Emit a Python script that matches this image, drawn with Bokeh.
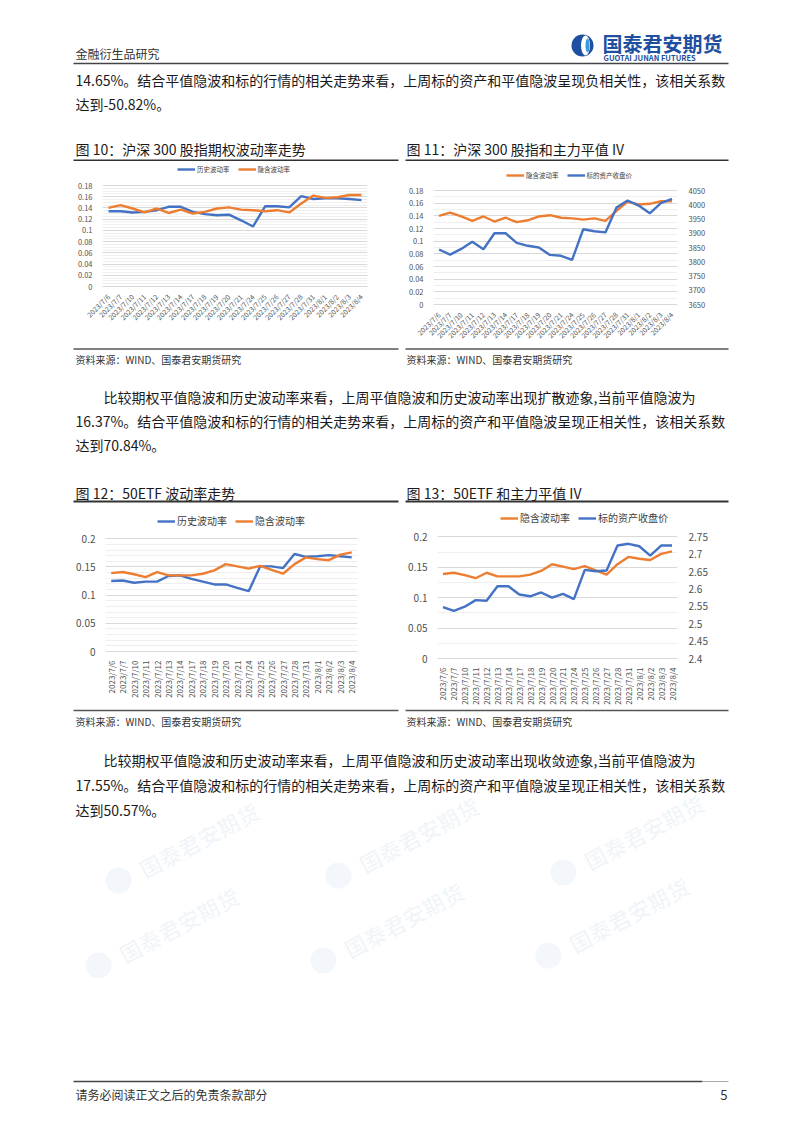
import math
from bokeh.plotting import figure
from bokeh.models import (Range1d, FactorRange, LinearAxis, FixedTicker,
                          CustomJSTickFormatter, Legend, LegendItem, Spacer)
from bokeh.layouts import column, row
from bokeh.embed import file_html
from bokeh.resources import INLINE
from bokeh.core.properties import value

# ---------------- data ----------------
dates = ["2023/7/6", "2023/7/7", "2023/7/10", "2023/7/11", "2023/7/12", "2023/7/13",
         "2023/7/14", "2023/7/17", "2023/7/18", "2023/7/19", "2023/7/20", "2023/7/21",
         "2023/7/24", "2023/7/25", "2023/7/26", "2023/7/27", "2023/7/28", "2023/7/31",
         "2023/8/1", "2023/8/2", "2023/8/3", "2023/8/4"]

if_hv = [0.134, 0.134, 0.132, 0.133, 0.136, 0.142, 0.142, 0.133, 0.129, 0.127, 0.128,
         0.118, 0.107, 0.143, 0.143, 0.141, 0.161, 0.156, 0.157, 0.157, 0.156, 0.154]
if_iv = [0.140, 0.145, 0.139, 0.132, 0.139, 0.131, 0.137, 0.130, 0.133, 0.139, 0.141,
         0.137, 0.136, 0.134, 0.136, 0.132, 0.148, 0.162, 0.158, 0.159, 0.163, 0.163]
hs300_close = [3843, 3825, 3845, 3870, 3844, 3900, 3900, 3866, 3856, 3850, 3824, 3821,
               3807, 3914, 3907, 3903, 3990, 4015, 3997, 3970, 4006, 4021]

etf_hv = [0.125, 0.126, 0.122, 0.124, 0.124, 0.134, 0.135, 0.129, 0.124, 0.119, 0.119,
          0.113, 0.107, 0.151, 0.151, 0.148, 0.173, 0.168, 0.169, 0.171, 0.169, 0.167]
etf_iv = [0.139, 0.141, 0.137, 0.132, 0.141, 0.135, 0.135, 0.135, 0.138, 0.144, 0.155,
          0.151, 0.147, 0.152, 0.145, 0.138, 0.155, 0.167, 0.164, 0.162, 0.172, 0.176]
etf_close = [2.548, 2.537, 2.549, 2.568, 2.566, 2.608, 2.608, 2.584, 2.579, 2.590, 2.575,
             2.586, 2.571, 2.655, 2.651, 2.653, 2.725, 2.730, 2.723, 2.696, 2.725, 2.725]

ticks_c1 = [0, 0.02, 0.04, 0.06, 0.08, 0.1, 0.12, 0.14, 0.16, 0.18]
ticks_c2_right = [3650, 3700, 3750, 3800, 3850, 3900, 3950, 4000, 4050]
ticks_c3 = [0, 0.05, 0.1, 0.15, 0.2]
ticks_c4_right = [2.4, 2.45, 2.5, 2.55, 2.6, 2.65, 2.7, 2.75]

lbl_hv = "历史波动率"
lbl_iv = "隐含波动率"
lbl_px = "标的资产收盘价"

FONT = "Noto Sans CJK SC"
BLUE = "#4472C4"
ORANGE = "#ED7D31"
TXT = "#1a1a1a"
FMT = CustomJSTickFormatter(code="return String(parseFloat(tick.toFixed(4)));")


def minor_of(ticks, n):
    out = []
    for a, b in zip(ticks[:-1], ticks[1:]):
        for k in range(1, n):
            out.append(a + (b - a) * k / n)
    return out


def chart(w, h, bl, br, bb, pad, yticks, nminor, series, legend_order, leg_loc,
          right=None, angle=math.pi / 4, tick_fs="7.5px", leg_fs="7px", xlab_fs="7px"):
    # frame spans from the figure top down to the x axis; the top 'pad' pixels hold the legend
    fh = h - bb
    ext = fh / (fh - pad)
    y0, y1 = yticks[0], yticks[-1]
    p = figure(width=w, height=h, x_range=FactorRange(*dates),
               y_range=Range1d(y0, y0 + (y1 - y0) * ext),
               output_backend="svg", toolbar_location=None,
               min_border_left=bl, min_border_right=br, min_border_top=0, min_border_bottom=bb)
    p.outline_line_color = None
    tk = FixedTicker(ticks=yticks, minor_ticks=minor_of(yticks, nminor))
    p.yaxis.ticker = tk
    p.ygrid.ticker = tk
    p.yaxis.formatter = FMT
    p.ygrid.grid_line_color = "#D9D9D9"
    p.ygrid.minor_grid_line_color = "#EFEFEF"
    p.xgrid.grid_line_color = None
    ax = p.yaxis[0]
    ax.axis_line_color = None
    ax.major_tick_line_color = None
    ax.minor_tick_line_color = None
    ax.major_label_text_font = FONT
    ax.major_label_text_font_size = tick_fs
    ax.major_label_text_color = "#505050"
    ax.major_label_standoff = 4
    xa = p.xaxis[0]
    xa.axis_line_color = "#D9D9D9"
    xa.major_tick_line_color = None
    xa.minor_tick_line_color = None
    xa.major_label_orientation = angle
    xa.major_label_text_font = FONT
    xa.major_label_text_font_size = xlab_fs
    xa.major_label_text_color = "#505050"
    xa.major_label_standoff = 3
    if right is not None:
        rticks = right
        r0, r1 = rticks[0], rticks[-1]
        p.extra_y_ranges = {"r": Range1d(r0, r0 + (r1 - r0) * ext)}
        ra = LinearAxis(y_range_name="r", ticker=FixedTicker(ticks=rticks), formatter=FMT)
        ra.axis_line_color = None
        ra.major_tick_line_color = None
        ra.minor_tick_line_color = None
        ra.major_label_text_font = FONT
        ra.major_label_text_font_size = tick_fs
        ra.major_label_text_color = "#505050"
        ra.major_label_standoff = 5
        p.add_layout(ra, "right")
    rends = {}
    for name, vals, color, rname in series:
        kw = dict(y_range_name=rname) if rname else {}
        rends[name] = p.line(dates, vals, line_color=color, line_width=2.4, **kw)
    leg = Legend(items=[LegendItem(label=n, renderers=[rends[n]]) for n in legend_order],
                 orientation="horizontal", location=leg_loc,
                 label_text_font=FONT, label_text_font_size=leg_fs,
                 label_text_color="#404040",
                 glyph_width=18, glyph_height=8, label_height=8, spacing=8,
                 padding=0, margin=0, border_line_color=None,
                 background_fill_alpha=0, label_standoff=2)
    p.add_layout(leg)
    return p


def textfig(y0, y1):
    p = figure(width=802, height=y1 - y0, x_range=Range1d(0, 802), y_range=Range1d(y1, y0),
               output_backend="svg", toolbar_location=None, min_border=0,
               x_axis_type=None, y_axis_type=None)
    p.grid.visible = False
    p.outline_line_color = None
    return p


def txt(p, x, y, s, size="14px", color=TXT, align="left", bold=False, angle=0, alpha=1.0):
    p.text(x=[x], y=[y], text=[s], text_font=value(FONT), text_font_size=size,
           text_color=color, text_align=align, text_baseline="middle", angle=angle,
           text_alpha=alpha, text_font_style="bold" if bold else "normal")


def hline(p, x0, x1, y, color="#333333", w=1.5):
    p.segment(x0=[x0], y0=[y], x1=[x1], y1=[y], line_color=color, line_width=w)


def watermark(p, x, y):
    a = 0.06
    p.ellipse(x=[x - 22], y=[y + 10], width=[26], height=[26], fill_color="#2E6DB4",
              fill_alpha=a, line_color=None)
    txt(p, x, y, "国泰君安期货", size="22px", color="#2E6DB4", bold=True,
        angle=math.radians(28), alpha=a)


# ---------------- top text block ----------------
top = textfig(0, 161)
txt(top, 75, 53, "金融衍生品研究", size="12px", color="#333333")
top.ellipse(x=[582], y=[45], width=[22], height=[22], fill_color="#1E4FA0", line_color=None)
top.ellipse(x=[585], y=[45], width=[9], height=[20], fill_color="white", line_color=None)
top.ellipse(x=[587], y=[45], width=[4], height=[14], fill_color="#3C9BE0", line_color=None)
txt(top, 602, 43, "国泰君安期货", size="20px", color="#1E4FA0", bold=True)
txt(top, 603, 57, "GUOTAI JUNAN FUTURES", size="7.5px", color="#1E4FA0", bold=True)
hline(top, 73, 728, 63, color="#444444", w=1.5)
txt(top, 75, 79, "14.65%。结合平值隐波和标的行情的相关走势来看，上周标的资产和平值隐波呈现负相关性，该相关系数")
txt(top, 75, 103, "达到-50.82%。")
txt(top, 75, 148, "图 10：沪深 300 股指期权波动率走势", size="14px")
txt(top, 406, 148, "图 11：沪深 300 股指和主力平值 IV", size="14px")
hline(top, 73, 398, 160, color="#333333", w=2)
hline(top, 405, 728, 160, color="#333333", w=2)

# ---------------- charts row 1 ----------------
c1 = chart(325, 168, 29, 31, 43, 24, ticks_c1, 4,
           [(lbl_hv, if_hv, BLUE, None), (lbl_iv, if_iv, ORANGE, None)],
           [lbl_hv, lbl_iv], (75, 112),
           angle=math.pi / 4, tick_fs="7.5px", leg_fs="6.5px", xlab_fs="7px")
c2 = chart(323, 186, 25, 51, 43, 29, ticks_c1, 2,
           [(lbl_iv, if_iv, ORANGE, None), (lbl_px, hs300_close, BLUE, "r")],
           [lbl_iv, lbl_px], (73, 124), right=ticks_c2_right,
           angle=math.pi / 4, tick_fs="7.5px", leg_fs="6.5px", xlab_fs="7px")
row1 = row(Spacer(width=73, height=186), c1, Spacer(width=7, height=186), c2,
           Spacer(width=74, height=186))

# ---------------- middle text block ----------------
mid = textfig(347, 503)
hline(mid, 73, 398, 348.5, color="#555555", w=1.5)
hline(mid, 405, 728, 348.5, color="#555555", w=1.5)
txt(mid, 75, 359, "资料来源：WIND、国泰君安期货研究", size="10px", color="#333333")
txt(mid, 406, 359, "资料来源：WIND、国泰君安期货研究", size="10px", color="#333333")
txt(mid, 103, 396, "比较期权平值隐波和历史波动率来看，上周平值隐波和历史波动率出现扩散迹象,当前平值隐波为")
txt(mid, 75, 420, "16.37%。结合平值隐波和标的行情的相关走势来看，上周标的资产和平值隐波呈现正相关性，该相关系数")
txt(mid, 75, 444, "达到70.84%。")
txt(mid, 75, 492, "图 12：50ETF 波动率走势", size="14px")
txt(mid, 406, 492, "图 13：50ETF 和主力平值 IV", size="14px")
hline(mid, 73, 398, 501, color="#333333", w=2)
hline(mid, 405, 728, 501, color="#333333", w=2)

# ---------------- charts row 2 ----------------
c3 = chart(325, 197, 32, 41, 46, 36, ticks_c3, 5,
           [(lbl_hv, etf_hv, BLUE, None), (lbl_iv, etf_iv, ORANGE, None)],
           [lbl_hv, lbl_iv], (52, 123),
           angle=math.pi / 2, tick_fs="10px", leg_fs="10px", xlab_fs="8px")
c4 = chart(323, 204, 32, 51, 46, 34, ticks_c3, 2,
           [(lbl_iv, etf_iv, ORANGE, None), (lbl_px, etf_close, BLUE, "r")],
           [lbl_iv, lbl_px], (63, 133), right=ticks_c4_right,
           angle=math.pi / 2, tick_fs="10px", leg_fs="10px", xlab_fs="8px")
row2 = row(Spacer(width=73, height=204), c3, Spacer(width=7, height=204), c4,
           Spacer(width=74, height=204))

# ---------------- bottom text block ----------------
bot = textfig(707, 1134)
for wx, wy in [(140, 870), (360, 865), (585, 862), (120, 955), (345, 950), (570, 945)]:
    watermark(bot, wx, wy)
hline(bot, 73, 398, 710, color="#555555", w=1.5)
hline(bot, 405, 728, 710, color="#555555", w=1.5)
txt(bot, 75, 721, "资料来源：WIND、国泰君安期货研究", size="10px", color="#333333")
txt(bot, 406, 721, "资料来源：WIND、国泰君安期货研究", size="10px", color="#333333")
txt(bot, 103, 759, "比较期权平值隐波和历史波动率来看，上周平值隐波和历史波动率出现收敛迹象,当前平值隐波为")
txt(bot, 75, 784, "17.55%。结合平值隐波和标的行情的相关走势来看，上周标的资产和平值隐波呈现正相关性，该相关系数")
txt(bot, 75, 809, "达到50.57%。")
hline(bot, 73, 702, 1081, color="#444444", w=1.5)
hline(bot, 702, 728, 1081, color="#AAAAAA", w=1)
txt(bot, 75, 1094, "请务必阅读正文之后的免责条款部分", size="12px", color="#333333")
txt(bot, 727, 1094, "5", size="13px", color="#333333", align="right")

layout = column(top, row1, mid, row2, bot)

open("out.html", "w").write(file_html(layout, INLINE))
